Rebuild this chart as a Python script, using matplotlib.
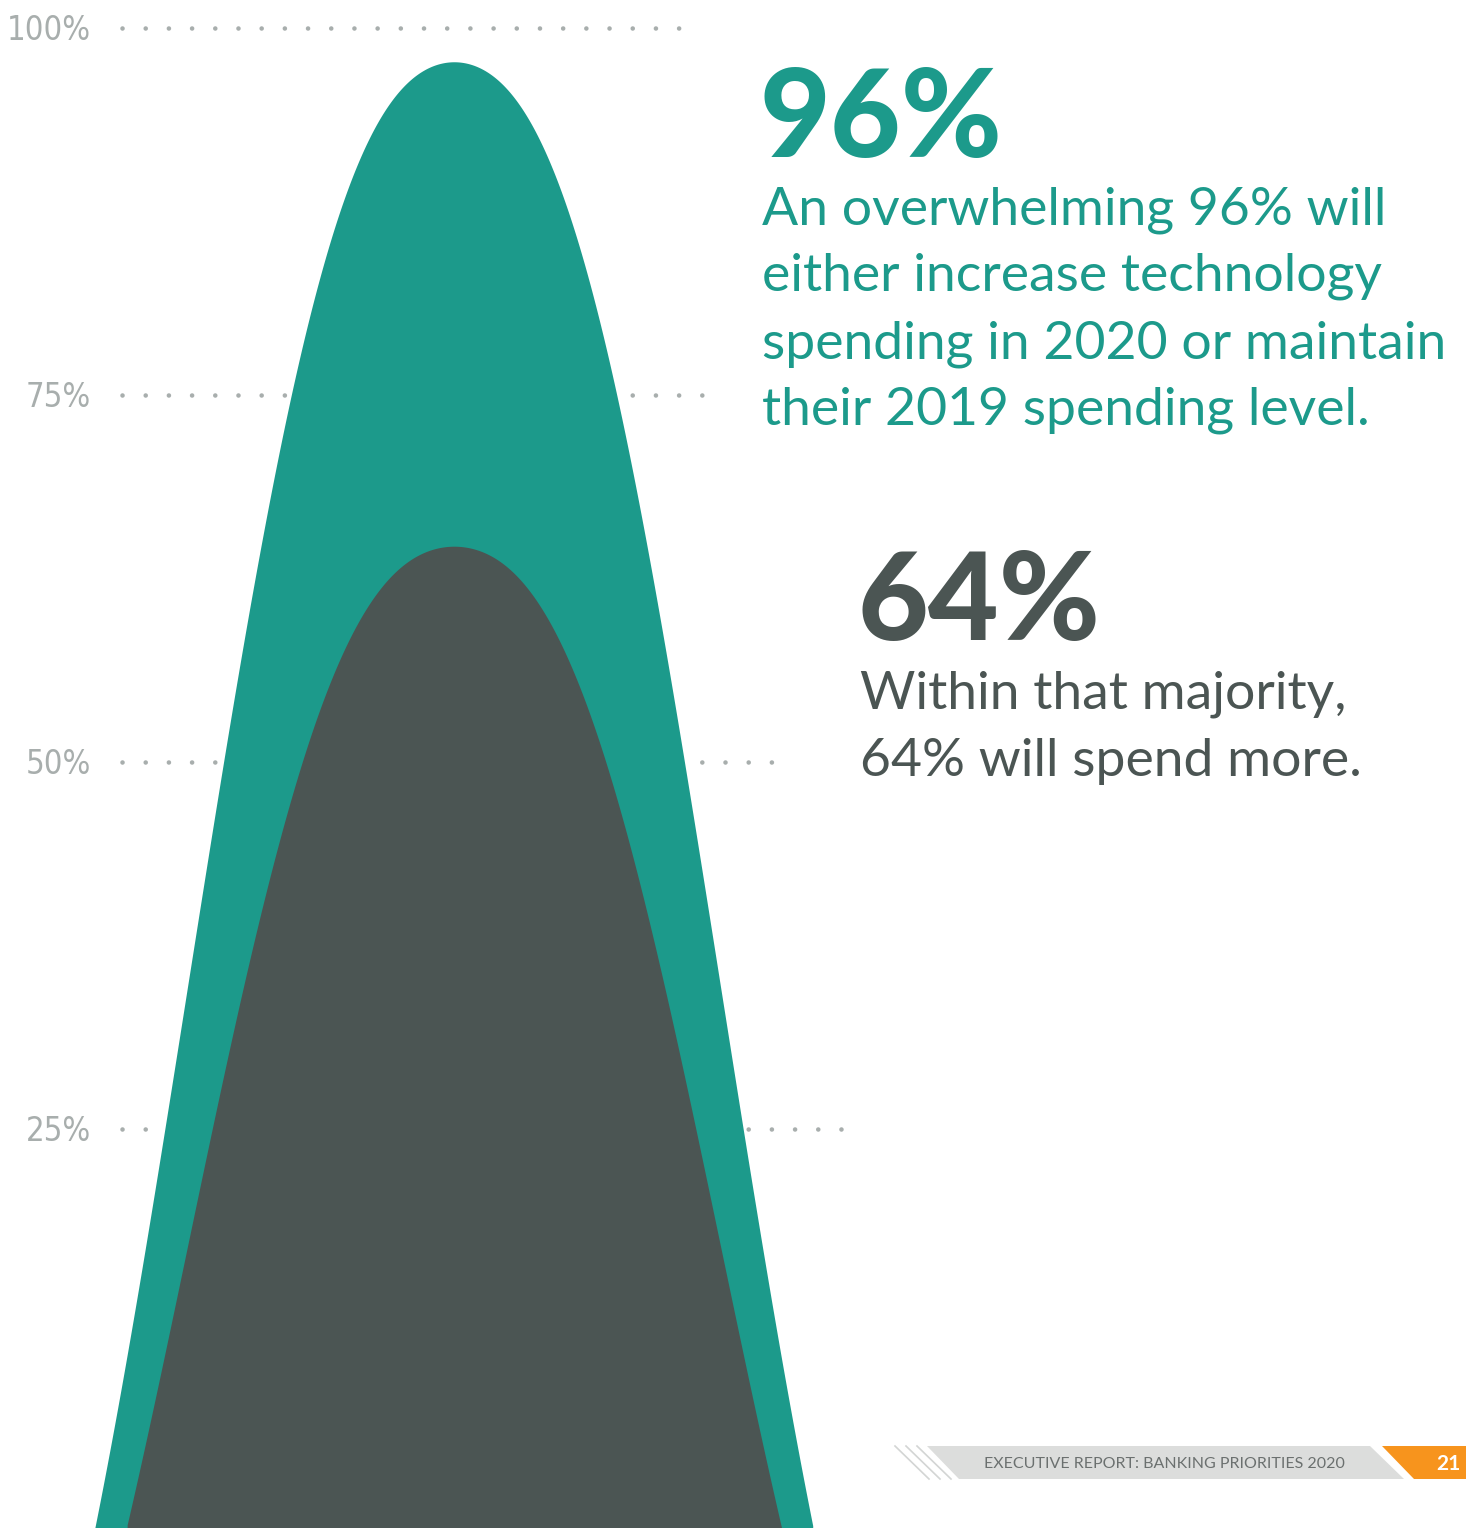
import numpy as np
import matplotlib
matplotlib.use("Agg")
import matplotlib.pyplot as plt
from matplotlib import font_manager
from matplotlib.patches import Polygon

# --- data ---
tick_values = [100, 75, 50, 25]
series_names = ["increase or maintain", "spend more"]
headline_values = [96, 64]          # the big figures in the text
curve_peaks = [97.7, 64.7]          # where each bump tops out against the gridlines
body_lines = [
    ["An overwhelming 96% will", "either increase technology",
     "spending in 2020 or maintain", "their 2019 spending level."],
    ["Within that majority,", "64% will spend more."],
]
footer_text = "EXECUTIVE REPORT: BANKING PRIORITIES 2020"
page_number = "21"

# --- styling ---
TEAL = "#1C9A8B"
GREY = "#4B5553"
TICK_GREY = "#A8AEAD"
W, H = 1466, 1528


def pick_font(*names):
    have = {f.name for f in font_manager.fontManager.ttflist}
    for n in names:
        if n in have:
            return n
    return "DejaVu Sans"


body = pick_font("Lato", "Roboto", "DejaVu Sans")

# a narrow face for the axis labels, if one is around
narrow_files = [f.fname for f in font_manager.fontManager.ttflist
                if ("Narrow" in f.fname or "Condensed" in f.fname)
                and "Bold" not in f.fname and "Italic" not in f.fname
                and "Oblique" not in f.fname]
if narrow_files:
    tick_font = dict(fontproperties=font_manager.FontProperties(fname=narrow_files[0], size=23.5))
else:
    tick_font = dict(family=body, fontweight="light", fontsize=20)

fig = plt.figure(figsize=(W / 100, H / 100), dpi=100)
fig.patch.set_facecolor("white")

# chart axes: x in page pixels, y in percent (0% sits at pixel row 1496, 25% = 367 px)
px_per_pct = 14.68
ax = fig.add_axes([0, 0, 1, 1])
ax.set_xlim(0, W)
ax.set_ylim((1496 - H) / px_per_pct, 1496 / px_per_pct)
ax.axis("off")

# dotted gridlines, drawn behind the bumps
grid_ends = [680, 710, 784, 851]
for val, x1 in zip(tick_values, grid_ends):
    ax.plot([122, x1], [val, val], color=TICK_GREY, lw=3.3,
            linestyle=(0, (0.01, 5.05)), dash_capstyle="round", zorder=1)
    ax.text(91, val - 0.85, f"{val}%", ha="right", va="baseline",
            color=TICK_GREY, zorder=1, **tick_font)

# bell-shaped bumps (rounded top, steep sides, running off the page)
centre, width, power, round_r, floor = 454, 325, 2.6, 60, -38
x = np.linspace(0, W, 1500)
d2 = (x - centre) ** 2
shape = ((d2 + round_r ** 2) ** (power / 2) - round_r ** power) / width ** power
ybot = ax.get_ylim()[0]
for peak, col in zip(curve_peaks, [TEAL, GREY]):
    y = floor + (peak - floor) * np.exp(-shape)
    ax.fill_between(x, y, ybot, where=y > ybot, color=col, lw=0, zorder=2)

# overlay in page pixels for the text and footer
ov = fig.add_axes([0, 0, 1, 1], facecolor="none")
ov.set_xlim(0, W)
ov.set_ylim(H, 0)
ov.axis("off")

big_base = [157, 640]
big_x = [762, 860]
line_base = [[224, 291, 358, 424], [709, 776]]
for i, col in enumerate([TEAL, GREY]):
    ov.text(big_x[i] - 2, big_base[i], f"{headline_values[i]}%", color=col,
            fontsize=88, fontweight="black", family=body, va="baseline", ha="left")
    for line, yb in zip(body_lines[i], line_base[i]):
        ov.text(big_x[i], yb, line, color=col, fontsize=38.5, family=body,
                va="baseline", ha="left")

# footer band
for dx in [895, 906, 917]:
    ov.plot([dx, dx + 34], [1446, 1479], color="#D3D5D4", lw=1.2)
ov.add_patch(Polygon([[927, 1446], [1370, 1446], [1404, 1479], [959, 1479]],
                     closed=True, color="#DCDDDC", lw=0))
ov.add_patch(Polygon([[1382, 1446], [W, 1446], [W, 1479], [1414, 1479]],
                     closed=True, color="#F7941D", lw=0))
ov.text(1164, 1464, footer_text, ha="center", va="center", fontsize=11.5,
        color="#6B706F", family=body)
ov.text(1448, 1464, page_number, ha="center", va="center", fontsize=15,
        fontweight="bold", color="white", family=body)

fig.savefig("out.png", dpi=100, facecolor="white")
